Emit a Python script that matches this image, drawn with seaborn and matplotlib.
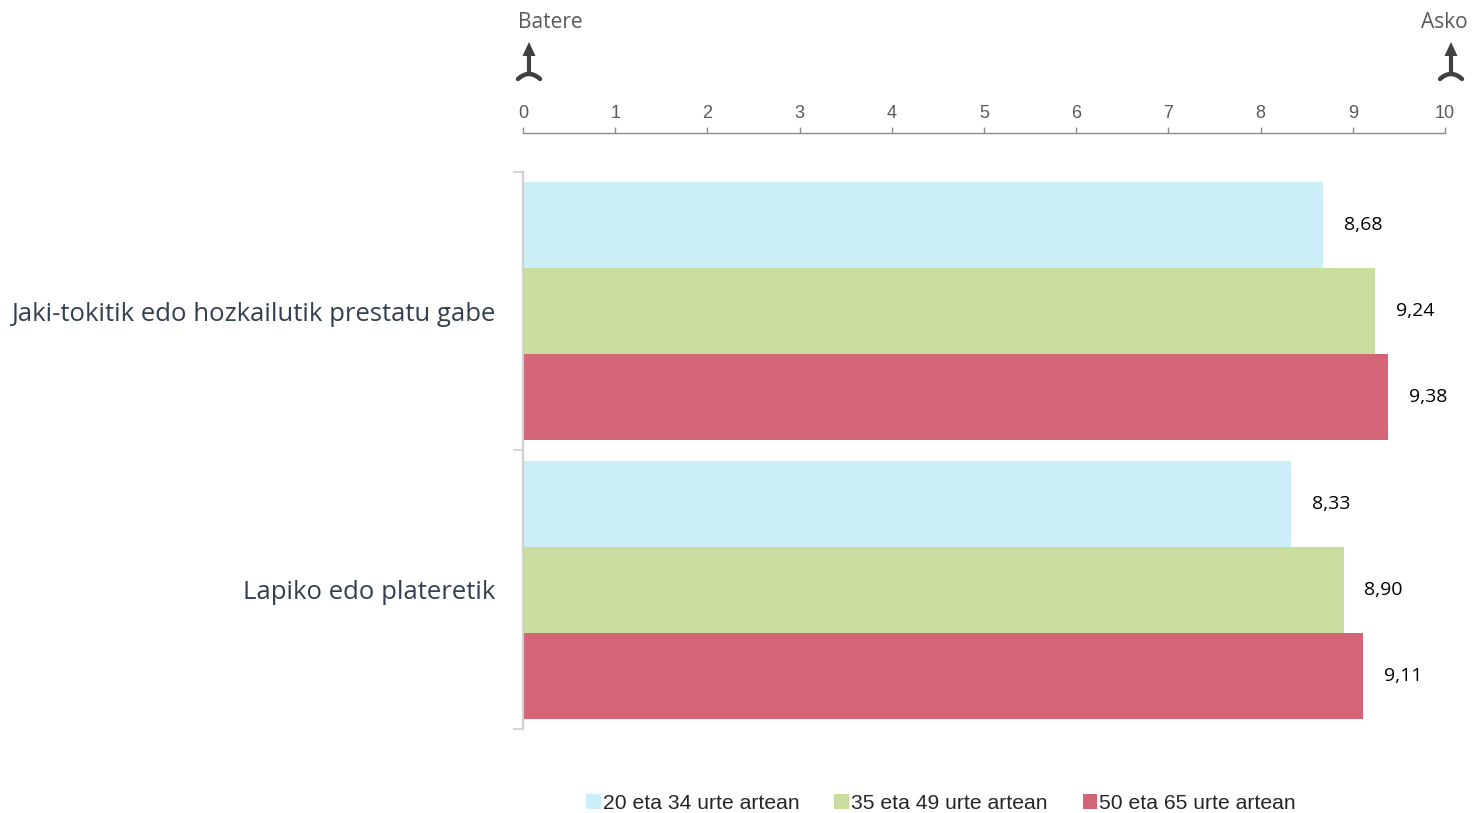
import numpy as np
import pandas as pd
import matplotlib
matplotlib.use("Agg")
import matplotlib.pyplot as plt
from matplotlib.ticker import FixedLocator
import seaborn as sns

# ---- data ----
categories = ["Jaki-tokitik edo hozkailutik prestatu gabe", "Lapiko edo plateretik"]
groups = ["20 eta 34 urte artean", "35 eta 49 urte artean", "50 eta 65 urte artean"]
values_20_34 = [8.68, 8.33]
values_35_49 = [9.24, 8.90]
values_50_65 = [9.38, 9.11]
x_ticks = [0, 1, 2, 3, 4, 5, 6, 7, 8, 9, 10]
scale_low, scale_high = "Batere", "Asko"
colors = ["#CBEEF7", "#C8DD9E", "#D46577"]

rows = []
for g, vals in zip(groups, [values_20_34, values_35_49, values_50_65]):
    for c, v in zip(categories, vals):
        rows.append({"category": c, "group": g, "value": v})
df = pd.DataFrame(rows)

sns.set_theme(style="white")
plt.rcParams["font.family"] = ["Open Sans", "DejaVu Sans"]

W, H = 1473, 813
fig = plt.figure(figsize=(W / 100, H / 100), dpi=100)
ax = fig.add_axes([523 / W, 1 - 729 / H, (1445 - 523) / W, (729 - 172) / H])

sns.barplot(data=df, y="category", x="value", hue="group", order=categories,
            hue_order=groups, palette=colors, orient="h", width=0.925,
            saturation=1, ax=ax, legend=False, errorbar=None,
            linewidth=0, edgecolor="none")

ax.set_xlim(0, 10)
ax.set_ylim(1.5, -0.5)
ax.set_xlabel("")
ax.set_ylabel("")

# value labels
for cont in ax.containers:
    ax.bar_label(cont, labels=[f"{v:.2f}".replace(".", ",") for v in cont.datavalues],
                 padding=15, fontsize=14, color="#000000", family=["Open Sans", "DejaVu Sans"])

# top axis
ax.xaxis.tick_top()
ax.xaxis.set_major_locator(FixedLocator(x_ticks))
ax.set_xticklabels([str(t) for t in x_ticks])
ax.spines["top"].set_position(("outward", 28))
ax.spines["top"].set_color("#8C8C8C")
ax.spines["top"].set_linewidth(1.0)
ax.tick_params(axis="x", which="major", top=True, bottom=False, direction="out",
               length=4, width=1, color="#8C8C8C", pad=4, labelsize=13,
               labelcolor="#595959", labeltop=True, labelbottom=False,
               labelfontfamily="Liberation Sans")
ax.spines["bottom"].set_visible(False)
ax.spines["right"].set_visible(False)

# left axis
ax.spines["left"].set_color("#D0D0D0")
ax.spines["left"].set_linewidth(1.6)
ax.yaxis.set_minor_locator(FixedLocator([-0.5, 0.5, 1.5]))
ax.tick_params(axis="y", which="major", length=0, pad=20, labelsize=18.5, labelcolor="#333F50",
               labelfontfamily="Open Sans")
ax.tick_params(axis="y", which="minor", left=True, length=7, width=1.2, color="#D0D0D0")

# legend
handles = [plt.Rectangle((0, 0), 1, 1, facecolor=c, edgecolor="none") for c in colors]
fig.legend(handles, groups, loc="center", bbox_to_anchor=(941 / W, 1 - 803 / H),
           ncol=3, frameon=False, handlelength=0.7, handleheight=0.7,
           handletextpad=0.1, columnspacing=1.65,
           prop={"family": ["Liberation Sans", "DejaVu Sans"], "size": 15.2})

# scale arrows with labels (decorations in pixel space)
fig.canvas.draw()
ov = fig.add_axes([0, 0, 1, 1], zorder=5)
ov.set_xlim(0, W)
ov.set_ylim(H, 0)
ov.axis("off")
arrow_col = "#404040"
for xv, txt in [(0, scale_low), (10, scale_high)]:
    xp = ax.transData.transform((xv, 0))[0] + 6
    ov.plot([xp, xp], [55, 74], color=arrow_col, lw=3, solid_capstyle="butt")
    ov.add_patch(plt.Polygon([[xp - 6.5, 56], [xp + 6.5, 56], [xp, 42]], closed=True,
                             facecolor=arrow_col, edgecolor="none"))
    t = np.linspace(-1, 1, 30)
    ov.plot(xp + 11 * t, 74 + 5 * t ** 2, color=arrow_col, lw=3.2, solid_capstyle="round")
    if xv == 0:
        ov.text(xp - 11, 22, txt, ha="left", va="center", fontsize=15,
                color="#595959", family=["Open Sans", "DejaVu Sans"])
    else:
        ov.text(xp + 17, 22, txt, ha="right", va="center", fontsize=15,
                color="#595959", family=["Open Sans", "DejaVu Sans"])

fig.savefig("out.png", dpi=100)
